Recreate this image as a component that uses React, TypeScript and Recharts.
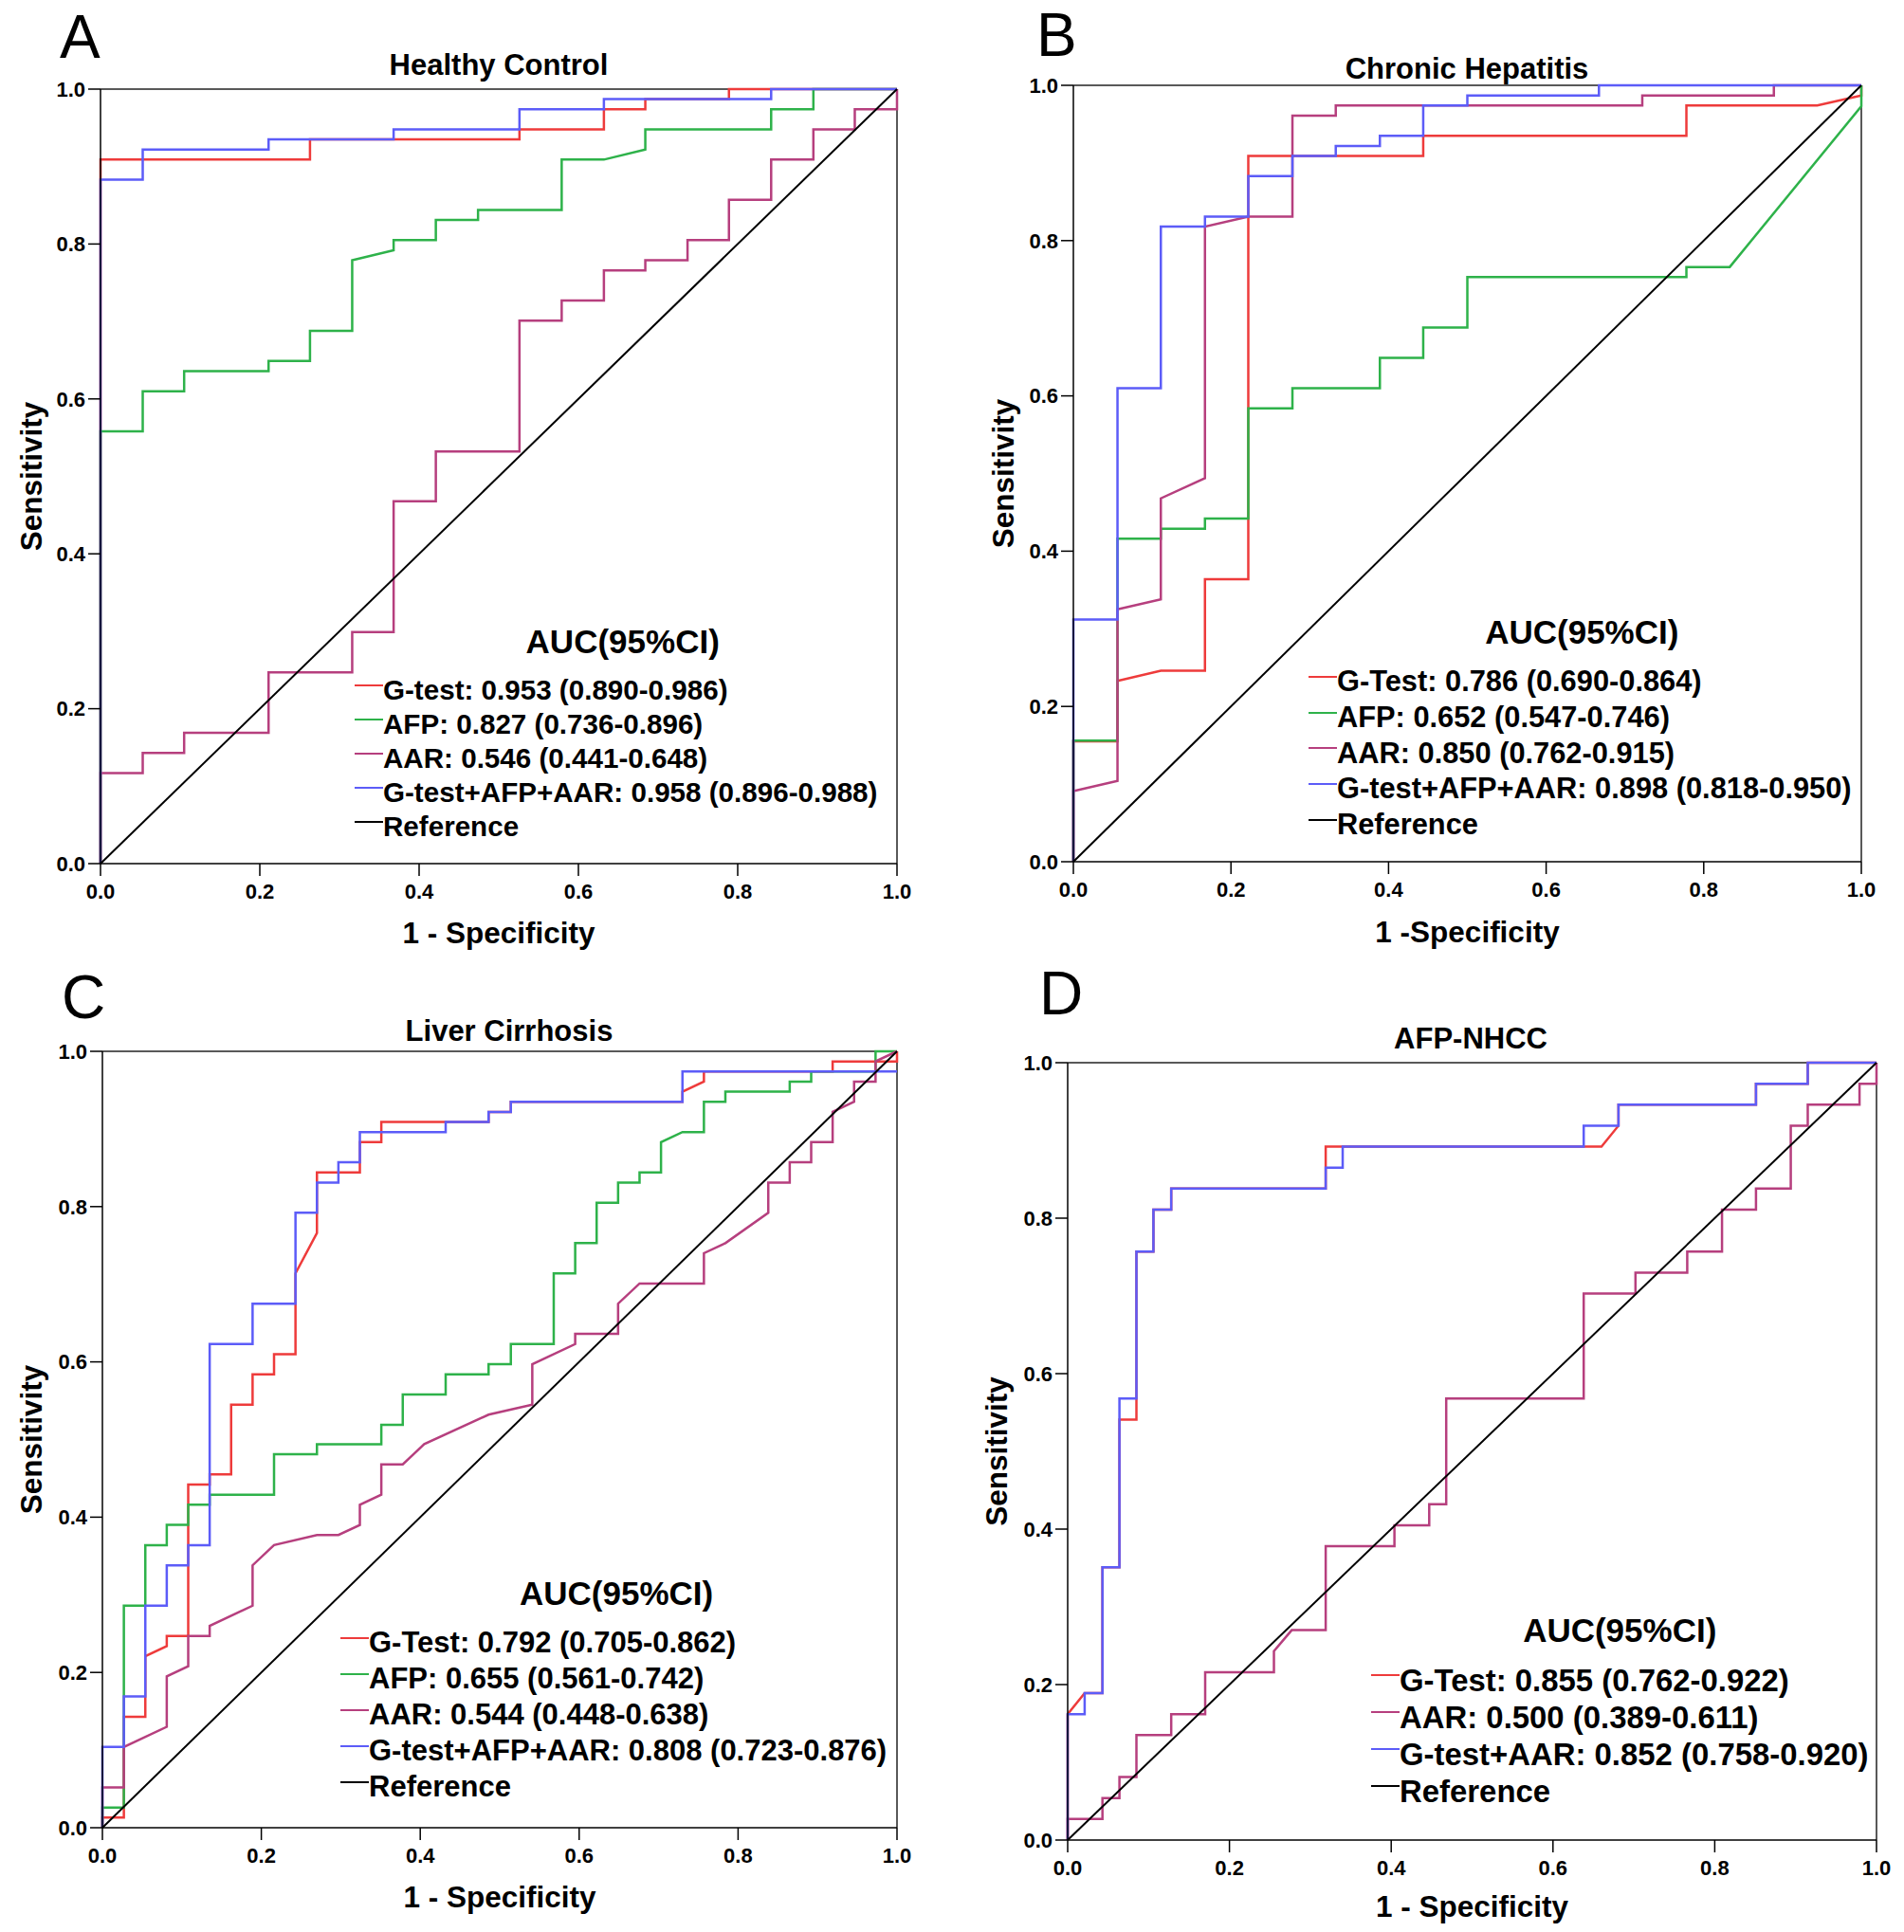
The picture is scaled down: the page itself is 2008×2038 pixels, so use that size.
import { LineChart, Line, XAxis, YAxis, ReferenceLine, Legend } from 'recharts'

type Pt = [number, number]

const FONT = '"Liberation Sans", Arial, Helvetica, sans-serif'
const RED = '#EE3B3B'
const GREEN = '#2EB24A'
const PLUM = '#B63F7E'
const BLUE = '#5C5CF8'
const BLACK = '#000000'

const tickValues = [0, 0.2, 0.4, 0.6, 0.8, 1.0]
const panelLetters = ['A', 'B', 'C', 'D']
const titles = ['Healthy Control', 'Chronic Hepatitis', 'Liver Cirrhosis', 'AFP-NHCC']
const xTitles = ['1 - Specificity', '1 -Specificity', '1 - Specificity', '1 - Specificity']
const yTitle = 'Sensitivity'
const legendHeader = 'AUC(95%CI)'

// reference diagonal
const refLine: Pt[] = [[0, 0], [1, 1]]

// A - healthy control (1 - specificity, sensitivity)
const hcGtest: Pt[] = [[0, 0], [0, 0.909], [0.263, 0.909], [0.263, 0.935], [0.526, 0.935], [0.526, 0.948], [0.632, 0.948], [0.632, 0.974], [0.684, 0.974], [0.684, 0.987], [0.789, 0.987], [0.789, 1], [1, 1]]
const hcAfp: Pt[] = [[0, 0], [0, 0.558], [0.053, 0.558], [0.053, 0.61], [0.105, 0.61], [0.105, 0.636], [0.211, 0.636], [0.211, 0.649], [0.263, 0.649], [0.263, 0.688], [0.316, 0.688], [0.316, 0.779], [0.368, 0.792], [0.368, 0.805], [0.421, 0.805], [0.421, 0.831], [0.474, 0.831], [0.474, 0.844], [0.579, 0.844], [0.579, 0.909], [0.632, 0.909], [0.684, 0.922], [0.684, 0.948], [0.842, 0.948], [0.842, 0.974], [0.895, 0.974], [0.895, 1], [1, 1]]
const hcAar: Pt[] = [[0, 0], [0, 0.117], [0.053, 0.117], [0.053, 0.143], [0.105, 0.143], [0.105, 0.169], [0.211, 0.169], [0.211, 0.247], [0.316, 0.247], [0.316, 0.299], [0.368, 0.299], [0.368, 0.468], [0.421, 0.468], [0.421, 0.532], [0.526, 0.532], [0.526, 0.701], [0.579, 0.701], [0.579, 0.727], [0.632, 0.727], [0.632, 0.766], [0.684, 0.766], [0.684, 0.779], [0.737, 0.779], [0.737, 0.805], [0.789, 0.805], [0.789, 0.857], [0.842, 0.857], [0.842, 0.909], [0.895, 0.909], [0.895, 0.948], [0.947, 0.948], [0.947, 0.974], [1, 0.974], [1, 1]]
const hcCombo: Pt[] = [[0, 0], [0, 0.883], [0.053, 0.883], [0.053, 0.922], [0.211, 0.922], [0.211, 0.935], [0.368, 0.935], [0.368, 0.948], [0.526, 0.948], [0.526, 0.974], [0.632, 0.974], [0.632, 0.987], [0.842, 0.987], [0.842, 1], [1, 1]]
const hcLabels = ['G-test: 0.953 (0.890-0.986)', 'AFP: 0.827 (0.736-0.896)', 'AAR: 0.546 (0.441-0.648)', 'G-test+AFP+AAR: 0.958 (0.896-0.988)', 'Reference']

// B - chronic hepatitis
const chGtest: Pt[] = [[0, 0], [0, 0.155], [0.056, 0.155], [0.056, 0.233], [0.111, 0.246], [0.167, 0.246], [0.167, 0.364], [0.222, 0.364], [0.222, 0.909], [0.444, 0.909], [0.444, 0.935], [0.778, 0.935], [0.778, 0.974], [0.944, 0.974], [1, 0.987], [1, 1]]
const chAfp: Pt[] = [[0, 0], [0, 0.156], [0.056, 0.156], [0.056, 0.416], [0.111, 0.416], [0.111, 0.429], [0.167, 0.429], [0.167, 0.442], [0.222, 0.442], [0.222, 0.584], [0.278, 0.584], [0.278, 0.61], [0.389, 0.61], [0.389, 0.649], [0.444, 0.649], [0.444, 0.688], [0.5, 0.688], [0.5, 0.753], [0.778, 0.753], [0.778, 0.766], [0.833, 0.766], [1, 0.973], [1, 1]]
const chAar: Pt[] = [[0, 0], [0, 0.091], [0.056, 0.104], [0.056, 0.325], [0.111, 0.338], [0.111, 0.468], [0.167, 0.494], [0.167, 0.818], [0.222, 0.831], [0.278, 0.831], [0.278, 0.961], [0.333, 0.961], [0.333, 0.974], [0.722, 0.974], [0.722, 0.987], [0.889, 0.987], [0.889, 1], [1, 1]]
const chCombo: Pt[] = [[0, 0], [0, 0.312], [0.056, 0.312], [0.056, 0.61], [0.111, 0.61], [0.111, 0.818], [0.167, 0.818], [0.167, 0.831], [0.222, 0.831], [0.222, 0.883], [0.278, 0.883], [0.278, 0.909], [0.333, 0.909], [0.333, 0.922], [0.389, 0.922], [0.389, 0.935], [0.444, 0.935], [0.444, 0.974], [0.5, 0.974], [0.5, 0.987], [0.667, 0.987], [0.667, 1], [1, 1]]
const chLabels = ['G-Test: 0.786 (0.690-0.864)', 'AFP: 0.652 (0.547-0.746)', 'AAR: 0.850 (0.762-0.915)', 'G-test+AFP+AAR: 0.898 (0.818-0.950)', 'Reference']

// C - liver cirrhosis
const lcGtest: Pt[] = [[0, 0], [0, 0.013], [0.027, 0.013], [0.027, 0.143], [0.054, 0.143], [0.054, 0.221], [0.081, 0.234], [0.081, 0.247], [0.108, 0.247], [0.108, 0.442], [0.135, 0.442], [0.135, 0.455], [0.162, 0.455], [0.162, 0.545], [0.189, 0.545], [0.189, 0.584], [0.216, 0.584], [0.216, 0.61], [0.243, 0.61], [0.243, 0.714], [0.27, 0.766], [0.27, 0.844], [0.324, 0.844], [0.324, 0.883], [0.351, 0.883], [0.351, 0.909], [0.486, 0.909], [0.486, 0.922], [0.514, 0.922], [0.514, 0.935], [0.73, 0.935], [0.73, 0.948], [0.757, 0.961], [0.757, 0.974], [0.919, 0.974], [0.919, 0.987], [1, 0.987], [1, 1]]
const lcAfp: Pt[] = [[0, 0], [0, 0.026], [0.027, 0.026], [0.027, 0.286], [0.054, 0.286], [0.054, 0.364], [0.081, 0.364], [0.081, 0.39], [0.108, 0.39], [0.108, 0.416], [0.135, 0.416], [0.135, 0.429], [0.216, 0.429], [0.216, 0.481], [0.27, 0.481], [0.27, 0.494], [0.351, 0.494], [0.351, 0.519], [0.378, 0.519], [0.378, 0.558], [0.432, 0.558], [0.432, 0.584], [0.486, 0.584], [0.486, 0.597], [0.514, 0.597], [0.514, 0.623], [0.568, 0.623], [0.568, 0.714], [0.595, 0.714], [0.595, 0.753], [0.622, 0.753], [0.622, 0.805], [0.649, 0.805], [0.649, 0.831], [0.676, 0.831], [0.676, 0.844], [0.703, 0.844], [0.703, 0.883], [0.73, 0.896], [0.757, 0.896], [0.757, 0.935], [0.784, 0.935], [0.784, 0.948], [0.865, 0.948], [0.865, 0.961], [0.892, 0.961], [0.892, 0.974], [0.973, 0.974], [0.973, 1], [1, 1]]
const lcAar: Pt[] = [[0, 0], [0, 0.052], [0.027, 0.052], [0.027, 0.104], [0.081, 0.13], [0.081, 0.195], [0.108, 0.208], [0.108, 0.247], [0.135, 0.247], [0.135, 0.26], [0.189, 0.286], [0.189, 0.338], [0.216, 0.364], [0.27, 0.377], [0.297, 0.377], [0.324, 0.39], [0.324, 0.416], [0.351, 0.429], [0.351, 0.468], [0.378, 0.468], [0.405, 0.494], [0.486, 0.532], [0.541, 0.545], [0.541, 0.597], [0.595, 0.623], [0.595, 0.636], [0.649, 0.636], [0.649, 0.675], [0.676, 0.701], [0.757, 0.701], [0.757, 0.74], [0.784, 0.753], [0.838, 0.792], [0.838, 0.831], [0.865, 0.831], [0.865, 0.857], [0.892, 0.857], [0.892, 0.883], [0.919, 0.883], [0.919, 0.922], [0.946, 0.935], [0.946, 0.961], [0.973, 0.961], [0.973, 0.987], [1, 1]]
const lcCombo: Pt[] = [[0, 0], [0, 0.104], [0.027, 0.104], [0.027, 0.169], [0.054, 0.169], [0.054, 0.286], [0.081, 0.286], [0.081, 0.338], [0.108, 0.338], [0.108, 0.364], [0.135, 0.364], [0.135, 0.623], [0.189, 0.623], [0.189, 0.675], [0.243, 0.675], [0.243, 0.792], [0.27, 0.792], [0.27, 0.831], [0.297, 0.831], [0.297, 0.857], [0.324, 0.857], [0.324, 0.896], [0.432, 0.896], [0.432, 0.909], [0.486, 0.909], [0.486, 0.922], [0.514, 0.922], [0.514, 0.935], [0.73, 0.935], [0.73, 0.974], [1, 0.974]]
const lcLabels = ['G-Test: 0.792 (0.705-0.862)', 'AFP: 0.655 (0.561-0.742)', 'AAR: 0.544 (0.448-0.638)', 'G-test+AFP+AAR: 0.808 (0.723-0.876)', 'Reference']

// D - AFP-negative HCC
const nhGtest: Pt[] = [[0, 0], [0, 0.162], [0.021, 0.189], [0.043, 0.189], [0.043, 0.351], [0.064, 0.351], [0.064, 0.541], [0.085, 0.541], [0.085, 0.757], [0.106, 0.757], [0.106, 0.811], [0.128, 0.811], [0.128, 0.838], [0.319, 0.838], [0.319, 0.892], [0.66, 0.892], [0.681, 0.919], [0.681, 0.946], [0.851, 0.946], [0.851, 0.973], [0.915, 0.973], [0.915, 1], [1, 1]]
const nhAar: Pt[] = [[0, 0], [0, 0.027], [0.043, 0.027], [0.043, 0.054], [0.064, 0.054], [0.064, 0.081], [0.085, 0.081], [0.085, 0.135], [0.128, 0.135], [0.128, 0.162], [0.17, 0.162], [0.17, 0.216], [0.255, 0.216], [0.255, 0.243], [0.277, 0.27], [0.319, 0.27], [0.319, 0.378], [0.404, 0.378], [0.404, 0.405], [0.447, 0.405], [0.447, 0.432], [0.468, 0.432], [0.468, 0.568], [0.638, 0.568], [0.638, 0.703], [0.702, 0.703], [0.702, 0.73], [0.766, 0.73], [0.766, 0.757], [0.809, 0.757], [0.809, 0.811], [0.851, 0.811], [0.851, 0.838], [0.894, 0.838], [0.894, 0.919], [0.915, 0.919], [0.915, 0.946], [0.979, 0.946], [0.979, 0.973], [1, 0.973], [1, 1]]
const nhCombo: Pt[] = [[0, 0], [0, 0.162], [0.021, 0.162], [0.021, 0.189], [0.043, 0.189], [0.043, 0.351], [0.064, 0.351], [0.064, 0.568], [0.085, 0.568], [0.085, 0.757], [0.106, 0.757], [0.106, 0.811], [0.128, 0.811], [0.128, 0.838], [0.319, 0.838], [0.319, 0.865], [0.34, 0.865], [0.34, 0.892], [0.638, 0.892], [0.638, 0.919], [0.681, 0.919], [0.681, 0.946], [0.851, 0.946], [0.851, 0.973], [0.915, 0.973], [0.915, 1], [1, 1]]
const nhLabels = ['G-Test: 0.855 (0.762-0.922)', 'AAR: 0.500 (0.389-0.611)', 'G-test+AAR: 0.852 (0.758-0.920)', 'Reference']

interface Series { name: string; color: string; pts: Pt[]; width: number }
interface Box { l: number; t: number; r: number; b: number }
interface LegendPos { left: number; headerY: number; rowY: number; gap: number; font: number; headerShift: number }
interface Panel {
  letter: string
  letterX: number
  letterY: number
  title: string
  titleX: number
  titleY: number
  xTitle: string
  xTitleY: number
  yTitleX: number
  box: Box
  series: Series[]
  legend: LegendPos
}

const mk = (labels: string[], colors: string[], sets: Pt[][]): Series[] =>
  labels.map((name, i) => ({ name, color: colors[i], pts: sets[i], width: colors[i] === BLACK ? 2 : 2.5 }))

const panels: Panel[] = [
  {
    letter: panelLetters[0], letterX: 63, letterY: 61,
    title: titles[0], titleX: 526, titleY: 79,
    xTitle: xTitles[0], xTitleY: 995, yTitleX: 43,
    box: { l: 106, t: 94, r: 946, b: 911 },
    series: mk(hcLabels, [RED, GREEN, PLUM, BLUE, BLACK], [hcGtest, hcAfp, hcAar, hcCombo, refLine]),
    legend: { left: 374, headerY: 677, rowY: 728, gap: 36, font: 29.6, headerShift: 7 },
  },
  {
    letter: panelLetters[1], letterX: 1093, letterY: 59,
    title: titles[1], titleX: 1547, titleY: 83,
    xTitle: xTitles[1], xTitleY: 994, yTitleX: 1068,
    box: { l: 1132, t: 90, r: 1963, b: 909 },
    series: mk(chLabels, [RED, GREEN, PLUM, BLUE, BLACK], [chGtest, chAfp, chAar, chCombo, refLine]),
    legend: { left: 1380, headerY: 667, rowY: 719, gap: 37.7, font: 30.8, headerShift: 2 },
  },
  {
    letter: panelLetters[2], letterX: 65, letterY: 1074,
    title: titles[2], titleX: 537, titleY: 1098,
    xTitle: xTitles[2], xTitleY: 2012, yTitleX: 43,
    box: { l: 108, t: 1109, r: 946, b: 1928 },
    series: mk(lcLabels, [RED, GREEN, PLUM, BLUE, BLACK], [lcGtest, lcAfp, lcAar, lcCombo, refLine]),
    legend: { left: 359, headerY: 1681, rowY: 1733, gap: 38, font: 31, headerShift: 3 },
  },
  {
    letter: panelLetters[3], letterX: 1096, letterY: 1070,
    title: titles[3], titleX: 1551, titleY: 1106,
    xTitle: xTitles[3], xTitleY: 2022, yTitleX: 1061,
    box: { l: 1126, t: 1121, r: 1979, b: 1941 },
    series: mk(nhLabels, [RED, PLUM, BLUE, BLACK], [nhGtest, nhAar, nhCombo, refLine]),
    legend: { left: 1446, headerY: 1719, rowY: 1772, gap: 39, font: 32.9, headerShift: 0 },
  },
]

const PAD_L = 100
const PAD_T = 20
const PAD_R = 30
const PAD_B = 70

const toRows = (pts: Pt[]) => pts.map(([x, y]) => ({ x, y }))

function RocPanel({ p }: { p: Panel }) {
  const w = p.box.r - p.box.l
  const h = p.box.b - p.box.t
  const originX = p.box.l - PAD_L
  const originY = p.box.t - PAD_T
  const lg = p.legend
  const headerH = 2 * (lg.rowY - lg.headerY) - lg.gap
  const order = p.series.map((s) => s.name)

  const renderLegend = (props: any) => {
    const items = [...(props.payload ?? [])].sort(
      (a: any, b: any) => order.indexOf(a.value) - order.indexOf(b.value)
    )
    return (
      <div style={{ fontFamily: FONT, fontWeight: 700, color: '#000', width: 'max-content' }}>
        <div
          style={{
            height: headerH,
            lineHeight: `${headerH}px`,
            fontSize: 35,
            textAlign: 'center',
            position: 'relative',
            left: lg.headerShift,
          }}
        >
          {legendHeader}
        </div>
        {items.map((it: any) => (
          <div
            key={it.value}
            style={{ display: 'flex', alignItems: 'center', height: lg.gap, lineHeight: `${lg.gap}px`, fontSize: lg.font }}
          >
            <span
              style={{
                display: 'inline-block',
                width: 30,
                height: 0,
                borderTop: `2px solid ${it.color}`,
                position: 'relative',
                top: -5,
              }}
            />
            <span style={{ whiteSpace: 'nowrap' }}>{it.value}</span>
          </div>
        ))}
      </div>
    )
  }

  return (
    <div style={{ position: 'absolute', left: originX, top: originY }}>
      <LineChart
        width={w + PAD_L + PAD_R}
        height={h + PAD_T + PAD_B}
        margin={{ top: PAD_T, right: PAD_R, left: PAD_L - 60, bottom: PAD_B - 50 }}
      >
        <XAxis
          type="number"
          dataKey="x"
          domain={[0, 1]}
          ticks={tickValues}
          tickFormatter={(v: number) => v.toFixed(1)}
          height={50}
          tickSize={13}
          tickMargin={8}
          interval={0}
          axisLine={{ stroke: '#000', strokeWidth: 1.5 }}
          tickLine={{ stroke: '#000', strokeWidth: 1.5 }}
          tick={{ fontSize: 22, fontWeight: 700, fill: '#000', fontFamily: FONT }}
        />
        <YAxis
          type="number"
          domain={[0, 1]}
          ticks={tickValues}
          tickFormatter={(v: number) => v.toFixed(1)}
          width={60}
          tickSize={13}
          tickMargin={3}
          interval={0}
          axisLine={{ stroke: '#000', strokeWidth: 1.5 }}
          tickLine={{ stroke: '#000', strokeWidth: 1.5 }}
          tick={{ fontSize: 22, fontWeight: 700, fill: '#000', fontFamily: FONT }}
        />
        <ReferenceLine y={1} stroke="#222" strokeWidth={1.5} />
        <ReferenceLine x={1} stroke="#222" strokeWidth={1.5} />
        {p.series.map((s) => (
          <Line
            key={s.name}
            data={toRows(s.pts)}
            dataKey="y"
            name={s.name}
            type="linear"
            stroke={s.color}
            strokeWidth={s.width}
            dot={false}
            activeDot={false}
            legendType="line"
            isAnimationActive={false}
          />
        ))}
        <Legend
          layout="vertical"
          align="center"
          verticalAlign="middle"
          content={renderLegend}
          wrapperStyle={{
            left: lg.left - originX,
            top: lg.headerY - headerH / 2 - originY,
            width: 'max-content',
            height: 'auto',
          }}
        />
      </LineChart>
    </div>
  )
}

export default function App() {
  return (
    <div style={{ position: 'absolute', left: 0, top: 0, width: 2008, height: 2038, background: '#fff', overflow: 'hidden' }}>
      {panels.map((p) => (
        <RocPanel key={p.letter} p={p} />
      ))}
      <svg width={2008} height={2038} style={{ position: 'absolute', left: 0, top: 0, pointerEvents: 'none' }}>
        <defs>
          {panels.map((p) => (
            <clipPath key={p.letter} id={`titleClip${p.letter}`}>
              <rect x={0} y={0} width={2008} height={p.box.t - 1} />
            </clipPath>
          ))}
        </defs>
        {panels.map((p) => {
          const cy = (p.box.t + p.box.b) / 2
          return (
            <g key={p.letter} fontFamily={FONT} fill="#000">
              <text x={p.letterX} y={p.letterY} fontSize={64}>{p.letter}</text>
              <text x={p.titleX} y={p.titleY} fontSize={31} fontWeight={700} textAnchor="middle" clipPath={`url(#titleClip${p.letter})`}>
                {p.title}
              </text>
              <text x={(p.box.l + p.box.r) / 2} y={p.xTitleY} fontSize={31.5} fontWeight={700} textAnchor="middle">
                {p.xTitle}
              </text>
              <text transform={`translate(${p.yTitleX + 1},${cy}) rotate(-90)`} fontSize={31.5} fontWeight={700} textAnchor="middle">
                {yTitle}
              </text>
            </g>
          )
        })}
      </svg>
    </div>
  )
}
